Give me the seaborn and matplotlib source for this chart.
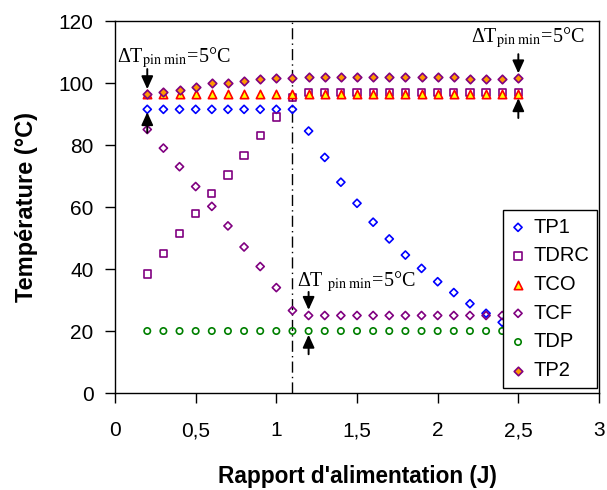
import numpy as np
import pandas as pd
import matplotlib
matplotlib.use("Agg")
import matplotlib.pyplot as plt
import seaborn as sns

# ---- data ----
J = [0.2, 0.3, 0.4, 0.5, 0.6, 0.7, 0.8, 0.9, 1.0, 1.1, 1.2, 1.3,
     1.4, 1.5, 1.6, 1.7, 1.8, 1.9, 2.0, 2.1, 2.2, 2.3, 2.4, 2.5]
nan = np.nan
TP1 = [91.5, 91.5, 91.5, 91.5, 91.5, 91.5, 91.5, 91.5, 91.5, 91.5, 84.5, 76.0,
       68.0, 61.2, 55.1, 49.7, 44.5, 40.2, 35.9, 32.4, 28.8, 25.7, 22.8, nan]
TDRC = [38.4, 45.1, 51.5, 58.0, 64.3, 70.3, 76.5, 83.0, 89.0, 95.3, 97.0, 97.0,
        97.0, 97.0, 97.0, 97.0, 97.0, 97.0, 97.0, 97.0, 97.0, 97.0, 97.0, 97.0]
TCO = [96.3] * 24
TCF = [85.0, 79.0, 73.0, 66.6, 60.2, 53.9, 47.1, 40.8, 34.0, 26.6, 25.0, 25.0,
       25.0, 25.0, 25.0, 25.0, 25.0, 25.0, 25.0, 25.0, 25.0, 25.0, 25.0, nan]
TDP = [20.0] * 23 + [nan]
TP2 = [96.6, 97.0, 97.7, 98.6, 99.9, 100.1, 100.7, 101.3, 101.5, 101.6, 102.0, 102.0,
       102.0, 102.0, 102.0, 102.0, 102.0, 102.0, 102.0, 102.0, 101.3, 101.3, 101.3, 101.5]

x_ticks = [0, 0.5, 1, 1.5, 2, 2.5, 3]
x_labels = ["0", "0,5", "1", "1,5", "2", "2,5", "3"]
y_ticks = [0, 20, 40, 60, 80, 100, 120]
y_labels = ["0", "20", "40", "60", "80", "100", "120"]

J_pinch = 1.1

sns.set_theme(style="white")
plt.rcParams["font.family"] = ["Liberation Sans", "DejaVu Sans"]
plt.rcParams["mathtext.fontset"] = "stix"
plt.rcParams["text.color"] = "black"
plt.rcParams["axes.labelcolor"] = "black"

fig = plt.figure(figsize=(6.07, 4.90), dpi=100)
ax = fig.add_axes([115 / 607, 97 / 490, 484 / 607, 372 / 490])

series = [
    ("TP1", TP1, "D", "none", "#0000FF", 17),
    ("TDRC", TDRC, "s", "none", "#800080", 27),
    ("TCO", TCO, "^", "#FFFF00", "#FF0000", 36),
    ("TCF", TCF, "D", "none", "#800080", 17),
    ("TDP", TDP, "o", "none", "#008000", 21),
    ("TP2", TP2, "D", "#FF9900", "#800080", 19),
]
for name, vals, mk, fc, ec, s in series:
    df = pd.DataFrame({"J": J, "T": vals})
    sns.scatterplot(data=df, x="J", y="T", marker=mk, s=s, facecolor=fc,
                    edgecolor=ec, linewidth=1.2, label=name, ax=ax, zorder=3)

ax.axvline(J_pinch, color="black", lw=1.0, ls=(0, (8, 3, 1, 3)), zorder=2)

ax.set_xlim(0, 3)
ax.set_ylim(0, 120)
ax.set_xticks(x_ticks)
ax.set_xticklabels(x_labels)
ax.set_yticks(y_ticks)
ax.set_yticklabels(y_labels)
ax.tick_params(axis="both", direction="out", length=7.5, width=1.0,
               colors="black", labelsize=15, bottom=True, left=True,
               top=False, right=False)
ax.tick_params(axis="x", pad=13)
ax.tick_params(axis="y", pad=8)
for sp in ax.spines.values():
    sp.set_color("black")
    sp.set_linewidth(1.0)

ax.set_xlabel("Rapport d'alimentation (J)", fontsize=16.3, fontweight="bold",
              labelpad=18, color="black")
ax.set_ylabel("Température (°C)", fontsize=17, fontweight="bold",
              labelpad=15, color="black")

# annotations
serif = ["Liberation Serif", "DejaVu Serif"]
txt_kw = dict(fontsize=14.5, family=serif, color="black", va="baseline", ha="left")
ax.text(0.012, 106.7, r"ΔT$_{\mathrm{pin\ min}}$=5°C", **txt_kw)
ax.text(2.205, 113.1, r"ΔT$_{\mathrm{pin\ min}}$=5°C", **txt_kw)
ax.text(1.13, 34.3, r"ΔT $_{\mathrm{pin\ min}}$=5°C", **txt_kw)

arrows = [
    ((0.2, 98.0), (0.2, 104.5)),
    ((0.2, 90.6), (0.2, 84.0)),
    ((2.5, 103.1), (2.5, 109.3)),
    ((2.5, 95.1), (2.5, 88.7)),
    ((1.2, 26.8), (1.2, 32.6)),
    ((1.2, 18.8), (1.2, 12.5)),
]
for tip, tail in arrows:
    ax.annotate("", xy=tip, xytext=tail,
                arrowprops=dict(arrowstyle="-|>,head_length=0.55,head_width=0.25",
                                color="black", lw=1.4, shrinkA=0, shrinkB=0,
                                mutation_scale=14))

leg = ax.legend(loc="lower right", bbox_to_anchor=(0.996, 0.0134), fontsize=14.5,
                frameon=True, fancybox=False, edgecolor="black", framealpha=1,
                handlelength=0.7, handletextpad=0.4, labelspacing=0.48,
                borderpad=0.4, borderaxespad=0, markerscale=1.0)
leg.get_frame().set_linewidth(1.0)
for t in leg.get_texts():
    t.set_color("black")

fig.savefig("out.png", dpi=100)
